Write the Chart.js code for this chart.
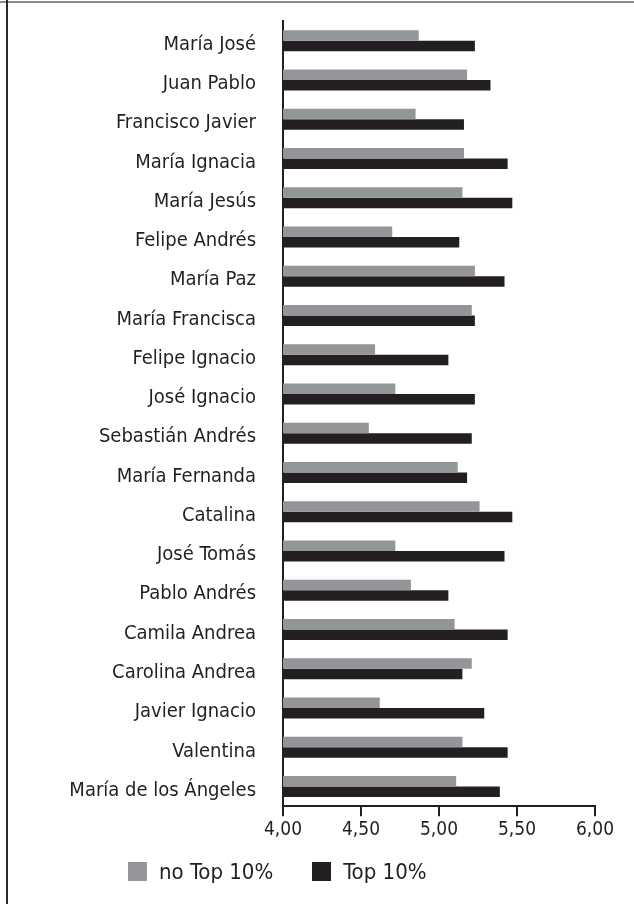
<!DOCTYPE html>
<html>
<head>
<meta charset="utf-8">
<script src="https://cdn.jsdelivr.net/npm/chart.js@4.4.1/dist/chart.umd.min.js"></script>
<style>
    body { margin: 0; background: #fff; }
    #contenitore { position: relative; width: 634px; height: 904px; }
    #bordoSup { position: absolute; left: 0; top: 1px; width: 634px; height: 2px; background: #8c8c8c; }
    #bordoSin { position: absolute; left: 6px; top: 0; width: 2px; height: 904px; background: #2a2a2a; }
    #legenda {
        position: absolute; left: 128px; top: 859px;
        display: flex; align-items: center;
        font-family: 'DejaVu Sans Condensed', 'DejaVu Sans', sans-serif;
        font-size: 22px; color: #231f20;
    }
    #legenda .voce { display: flex; align-items: center; margin-right: 39px; }
    #legenda .box { width: 19px; height: 19px; margin-right: 12px; }
</style>
</head>
<body>
<div id="contenitore">
    <canvas id="grafico" width="634" height="904"></canvas>
    <div id="bordoSup"></div>
    <div id="bordoSin"></div>
    <div id="legenda"></div>
</div>
<script>
// Dati
const nombres = ['María José', 'Juan Pablo', 'Francisco Javier', 'María Ignacia', 'María Jesús',
    'Felipe Andrés', 'María Paz', 'María Francisca', 'Felipe Ignacio', 'José Ignacio',
    'Sebastián Andrés', 'María Fernanda', 'Catalina', 'José Tomás', 'Pablo Andrés',
    'Camila Andrea', 'Carolina Andrea', 'Javier Ignacio', 'Valentina', 'María de los Ángeles'];
const noTop10 = [4.87, 5.18, 4.85, 5.16, 5.15, 4.70, 5.23, 5.21, 4.59, 4.72,
    4.55, 5.12, 5.26, 4.72, 4.82, 5.10, 5.21, 4.62, 5.15, 5.11];
const top10 = [5.23, 5.33, 5.16, 5.44, 5.47, 5.13, 5.42, 5.23, 5.06, 5.23,
    5.21, 5.18, 5.47, 5.42, 5.06, 5.44, 5.15, 5.29, 5.44, 5.39];
const etichetteSerie = ['no Top 10%', 'Top 10%'];
const coloriSerie = ['#939598', '#231f20'];
const asseMin = 4;
const asseMax = 6;
const passo = 0.5;

const font = "'DejaVu Sans Condensed', 'DejaVu Sans', sans-serif";
const nero = '#231f20';

const ctx = document.getElementById('grafico').getContext('2d');
const grafico = new Chart(ctx, {
    type: 'bar',
    data: {
        labels: nombres,
        datasets: [{
            label: etichetteSerie[0],
            data: noTop10,
            backgroundColor: coloriSerie[0]
        }, {
            label: etichetteSerie[1],
            data: top10,
            backgroundColor: coloriSerie[1]
        }]
    },
    options: {
        indexAxis: 'y',
        responsive: false,
        animation: false,
        layout: { padding: { left: 0, right: 39, top: 21, bottom: 61 } },
        datasets: { bar: { categoryPercentage: 0.535, barPercentage: 1.0 } },
        plugins: {
            legend: { display: false },
            tooltip: { enabled: false }
        },
        scales: {
            x: {
                min: asseMin,
                max: asseMax,
                ticks: {
                    stepSize: passo,
                    color: nero,
                    padding: 2,
                    font: { family: font, size: 19 },
                    callback: v => v.toFixed(2).replace('.', ',')
                },
                grid: { drawOnChartArea: false, drawTicks: true, tickLength: 10, color: nero, lineWidth: 2 },
                border: { display: true, color: nero, width: 2 }
            },
            y: {
                ticks: {
                    color: nero,
                    padding: 27,
                    labelOffset: 4,
                    autoSkip: false,
                    font: { family: font, size: 20 }
                },
                grid: { display: false, drawTicks: false },
                border: { display: true, color: nero, width: 2 },
                afterFit: function (scala) {
                    // larghezza fissa dell'asse e niente margine extra sopra/sotto
                    scala.width = 283;
                    scala.paddingTop = 0;
                    scala.paddingBottom = 0;
                }
            }
        }
    }
});

// Legenda in HTML costruita dai dataset
const legenda = document.getElementById('legenda');
grafico.data.datasets.forEach(ds => {
    const voce = document.createElement('div');
    voce.className = 'voce';
    voce.innerHTML = `<span class="box" style="background:${ds.backgroundColor}"></span><span>${ds.label}</span>`;
    legenda.appendChild(voce);
});
</script>
</body>
</html>
